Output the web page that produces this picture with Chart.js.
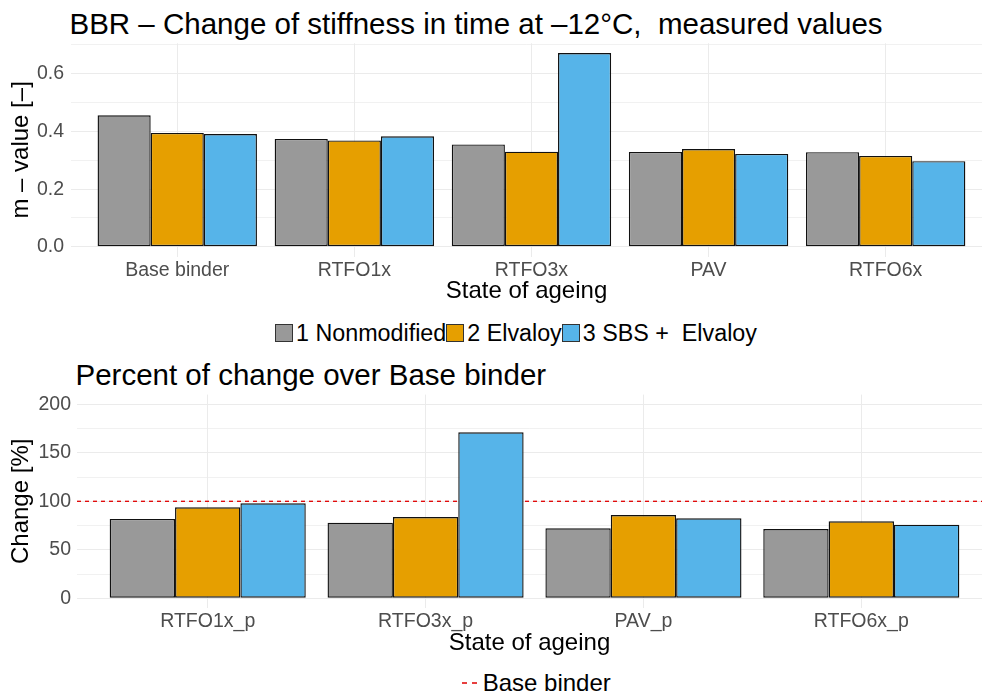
<!DOCTYPE html>
<html>
<head>
<meta charset="utf-8">
<script src="https://cdn.jsdelivr.net/npm/chart.js@4.4.1/dist/chart.umd.min.js"></script>
<style>
    body { margin: 0; background: #ffffff; font-family: "Liberation Sans", Arial, sans-serif; }
    #pagina { position: relative; width: 982px; height: 700px; overflow: hidden; background: #ffffff; }
    .titulo { position: absolute; font-size: 29.5px; line-height: 29px; white-space: pre; color: #000000; }
    canvas { position: absolute; left: 0; }
    .legenda { position: absolute; display: flex; align-items: center; white-space: pre; color: #000000; }
    .legenda span.chave { display: inline-block; width: 16px; height: 16px; border: 1px solid #333333; }
    .legenda span.texto { line-height: 24px; margin-left: 3px; margin-right: 0px; }
</style>
</head>
<body>
<div id="pagina">
    <div class="titulo" style="left:69.5px; top:8.6px;">BBR – Change of stiffness in time at –12°C,  measured values</div>
    <canvas id="GraficoMedidos" width="982" height="312" style="top:0px;"></canvas>
    <div class="legenda" id="LegendaSeries" style="left:275px; top:320.8px; font-size:23.3px;"></div>
    <div class="titulo" style="left:75.5px; top:360.3px;">Percent of change over Base binder</div>
    <canvas id="GraficoPercentual" width="982" height="304" style="top:360px;"></canvas>
    <div class="legenda" style="left:461.7px; top:671.4px; font-size:24px;">
        <svg width="15" height="4"><line x1="0" y1="2" x2="15" y2="2" stroke="#E00000" stroke-width="1.3" stroke-dasharray="5,5"></line></svg>
        <span class="texto" style="margin-left:6px;">Base binder</span>
    </div>
</div>
<script>
// valores
var seriesNames = ['1 Nonmodified', '2 Elvaloy', '3 SBS +  Elvaloy'];
var seriesColors = ['#999999', '#E69F00', '#56B4E9'];

// m - value [-]
var states = ['Base binder', 'RTFO1x', 'RTFO3x', 'PAV', 'RTFO6x'];
var mNonmodified = [0.456, 0.374, 0.355, 0.329, 0.328];
var mElvaloy = [0.395, 0.369, 0.330, 0.339, 0.315];
var mSbsElvaloy = [0.391, 0.383, 0.672, 0.322, 0.297];

// change [%] over base binder
var statesP = ['RTFO1x_p', 'RTFO3x_p', 'PAV_p', 'RTFO6x_p'];
var pNonmodified = [81.8, 78.0, 72.2, 71.4];
var pElvaloy = [93.8, 83.8, 85.9, 79.4];
var pSbsElvaloy = [97.9, 171.1, 82.5, 75.9];
var baseBinderLine = 100;

var fonte = '"Liberation Sans", Arial, sans-serif';
Chart.defaults.font.family = fonte;
Chart.defaults.animation = false;

function PegarPontos(valores) {
    return valores.map(function (v, i) { return { x: i + 1, y: v }; });
}

function PegarDatasets(listaValores) {
    return listaValores.map(function (valores, i) {
        return {
            label: seriesNames[i],
            data: PegarPontos(valores),
            backgroundColor: seriesColors[i],
            borderColor: '#111111',
            borderWidth: 1.4,
            borderSkipped: false,
            categoryPercentage: 0.9,
            barPercentage: 1.0,
            order: 0
        };
    });
}

function EixoX(categorias, xMin, xMax, altura) {
    return {
        type: 'linear',
        min: xMin,
        max: xMax,
        offset: false,
        grid: { offset: false, color: '#EBEBEB', lineWidth: 1, drawTicks: false },
        border: { display: false },
        ticks: {
            stepSize: 1,
            includeBounds: false,
            autoSkip: false,
            maxRotation: 0,
            padding: 2,
            color: '#4D4D4D',
            font: { size: 19.5 },
            callback: function (v) { return categorias[Math.round(v) - 1]; }
        },
        title: { display: true, text: 'State of ageing', color: '#000000', font: { size: 24 }, padding: { top: 0, bottom: 6 } },
        afterFit: function (scale) { scale.height = altura; }
    };
}

function EixoY(titulo, yMin, yMax, passo, passoRotulo, casas, padTicks, largura) {
    function Principal(v) {
        var r = v / passoRotulo;
        return Math.abs(r - Math.round(r)) < 1e-6;
    }
    return {
        min: yMin,
        max: yMax,
        grid: {
            color: '#EBEBEB',
            drawTicks: false,
            lineWidth: function (ctx) { return ctx.tick && Principal(ctx.tick.value) ? 1.1 : 0.7; }
        },
        border: { display: false },
        ticks: {
            stepSize: passo,
            includeBounds: false,
            padding: padTicks,
            color: '#4D4D4D',
            font: { size: 19.5 },
            callback: function (v) { return Principal(v) ? v.toFixed(casas) : ''; }
        },
        title: { display: true, text: titulo, color: '#000000', font: { size: 24 }, padding: { top: 7, bottom: 0 } },
        afterFit: function (scale) { scale.width = largura; }
    };
}

// legenda das series
var legenda = document.getElementById('LegendaSeries');
seriesNames.forEach(function (nome, i) {
    var chave = document.createElement('span');
    chave.className = 'chave';
    chave.style.background = seriesColors[i];
    var texto = document.createElement('span');
    texto.className = 'texto';
    texto.textContent = nome;
    legenda.appendChild(chave);
    legenda.appendChild(texto);
});

var ctx = document.getElementById('GraficoMedidos').getContext('2d');
var grafico = new Chart(ctx, {
    type: 'bar',
    data: {
        datasets: PegarDatasets([mNonmodified, mElvaloy, mSbsElvaloy])
    },
    options: {
        responsive: false,
        layout: { padding: { top: 43.3, right: 0, bottom: 0, left: 0 } },
        plugins: { legend: { display: false }, tooltip: { enabled: false }, title: { display: false } },
        scales: {
            x: EixoX(states, 0.4, 5.544, 55.5),
            y: EixoY('m – value [–]', -0.0336, 0.7056, 0.1, 0.2, 1, 7, 71)
        }
    }
});

var xMinP = 0.4;
var xMaxP = 4.554;
var datasetsP = PegarDatasets([pNonmodified, pElvaloy, pSbsElvaloy]);
datasetsP.push({
    type: 'line',
    label: 'Base binder',
    data: [{ x: xMinP, y: baseBinderLine }, { x: xMaxP, y: baseBinderLine }],
    borderColor: '#E00000',
    borderWidth: 1.3,
    borderDash: [4, 4],
    pointRadius: 0,
    fill: false,
    order: 1
});

var ctx2 = document.getElementById('GraficoPercentual').getContext('2d');
var grafico2 = new Chart(ctx2, {
    type: 'bar',
    data: { datasets: datasetsP },
    options: {
        responsive: false,
        layout: { padding: { top: 34.6, right: 0, bottom: 0, left: 0 } },
        plugins: { legend: { display: false }, tooltip: { enabled: false }, title: { display: false } },
        scales: {
            x: EixoX(statesP, xMinP, xMaxP, 56),
            y: EixoY('Change [%]', -10, 210, 25, 50, 0, 6, 77)
        }
    }
});
</script>
</body>
</html>
